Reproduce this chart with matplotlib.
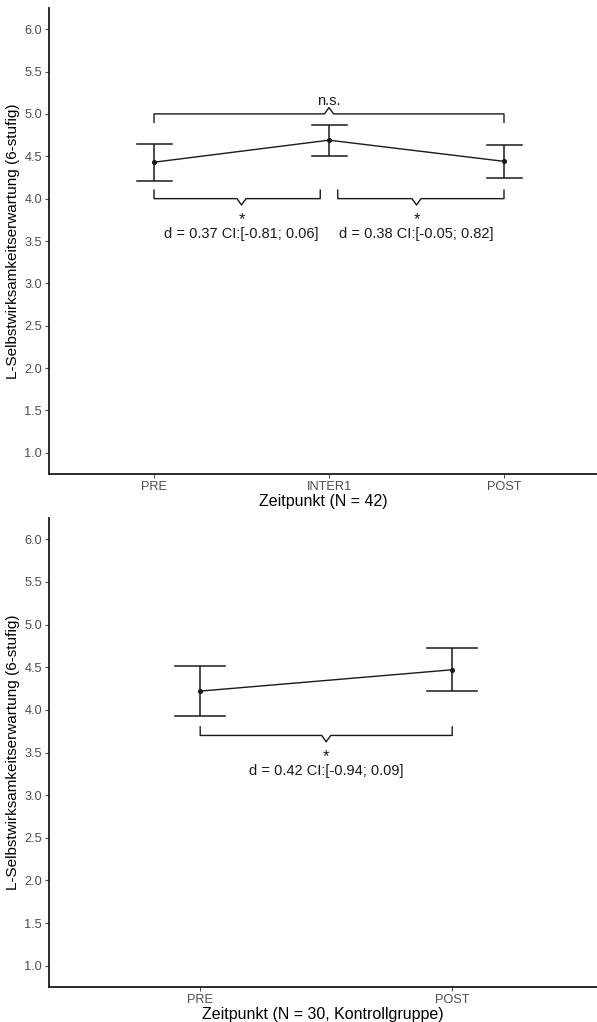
import matplotlib
matplotlib.use("Agg")
from matplotlib import pyplot as plt
import numpy as np

plt.rcParams['font.family'] = ['Liberation Sans', 'DejaVu Sans']

# panel 1 (N = 42)
cats_a = ["PRE", "INTER1", "POST"]
mean_a = [4.43, 4.69, 4.44]
lo_a = [4.21, 4.50, 4.24]
hi_a = [4.65, 4.87, 4.63]

# panel 2 (N = 30, Kontrollgruppe)
cats_b = ["PRE", "POST"]
mean_b = [4.22, 4.47]
lo_b = [3.93, 4.22]
hi_b = [4.52, 4.72]

yticks = [1.0, 1.5, 2.0, 2.5, 3.0, 3.5, 4.0, 4.5, 5.0, 5.5, 6.0]
ylabel = "L-Selbstwirksamkeitserwartung (6-stufig)"

# brackets: (x_start, x_end, y_line, direction, label, sublabel)
brackets_a = [(1, 3, 5.0, 1, "n.s.", None),
              (1, 1.95, 4.0, -1, "*", "d = 0.37 CI:[-0.81; 0.06]"),
              (2.05, 3, 4.0, -1, "*", "d = 0.38 CI:[-0.05; 0.82]")]
brackets_b = [(1, 2, 3.70, -1, "*", "d = 0.42 CI:[-0.94; 0.09]")]

W, H = 597, 1022
fig = plt.figure(figsize=(W / 100, H / 100), dpi=100)

ink = '#1a1a1a'


def panel(ax, cats, mean, lo, hi, brackets, xlabel, xright):
    x = np.arange(1, len(cats) + 1)
    ax.plot(x, mean, color=ink, lw=1.0, zorder=2)
    ax.errorbar(x, mean, yerr=[np.array(mean) - np.array(lo), np.array(hi) - np.array(mean)],
                fmt='none', ecolor=ink, elinewidth=1.1, capsize=0, zorder=2)
    for xi, l, h in zip(x, lo, hi):
        ax.plot([xi - 0.1, xi + 0.1], [l, l], color=ink, lw=1.1)
        ax.plot([xi - 0.1, xi + 0.1], [h, h], color=ink, lw=1.1)
    ax.scatter(x, mean, s=7, color=ink, zorder=3)

    ax.set_xlim(0.4, xright)
    ax.set_ylim(0.75, 6.25)
    px = (xright - 0.4) / (W - 49)  # data units per pixel
    dx = 4.5 * px
    for x0, x1, yl, d, lab, sub in brackets:
        xm = (round(x0) + round(x1)) / 2
        tick = 0.1
        ax.plot([x0, x0, xm - dx, xm, xm + dx, x1, x1],
                [yl - d * tick, yl, yl, yl + d * tick * 0.75, yl, yl, yl - d * tick],
                color=ink, lw=1.0)
        if d > 0:
            ax.text(xm, yl + 0.15, lab, ha='center', va='center', fontsize=10.5, color=ink)
        else:
            ax.text(xm, yl - 0.30, lab, ha='center', va='baseline', fontsize=12, color=ink)
            ax.text(xm, yl - 0.42, sub, ha='center', va='center', fontsize=10.5, color=ink)

    ax.set_xticks(x)
    ax.set_xticklabels(cats)
    ax.set_yticks(yticks)
    ax.set_yticklabels([f"{v:.1f}" for v in yticks])
    ax.tick_params(axis='both', colors='#4d4d4d', labelcolor='#4d4d4d', labelsize=9.2,
                   length=3, width=0.8, pad=2)
    for s in ['top', 'right']:
        ax.spines[s].set_visible(False)
    for s in ['left', 'bottom']:
        ax.spines[s].set_color(ink)
        ax.spines[s].set_linewidth(1.3)
    ax.set_xlabel(xlabel, fontsize=11.5, color='black', labelpad=1)
    ax.set_ylabel(ylabel, fontsize=11, color='black', labelpad=3)


ax1 = fig.add_axes([49 / W, 1 - 474 / H, 1 - 49 / W, (474 - 8) / H])
panel(ax1, cats_a, mean_a, lo_a, hi_a, brackets_a, "Zeitpunkt (N = 42)", 0.4 + 548 / 175)

ax2 = fig.add_axes([49 / W, 1 - 987 / H, 1 - 49 / W, (987 - 518) / H])
panel(ax2, cats_b, mean_b, lo_b, hi_b, brackets_b, "Zeitpunkt (N = 30, Kontrollgruppe)", 0.4 + 548 / 252)

fig.savefig("out.png", dpi=100)
